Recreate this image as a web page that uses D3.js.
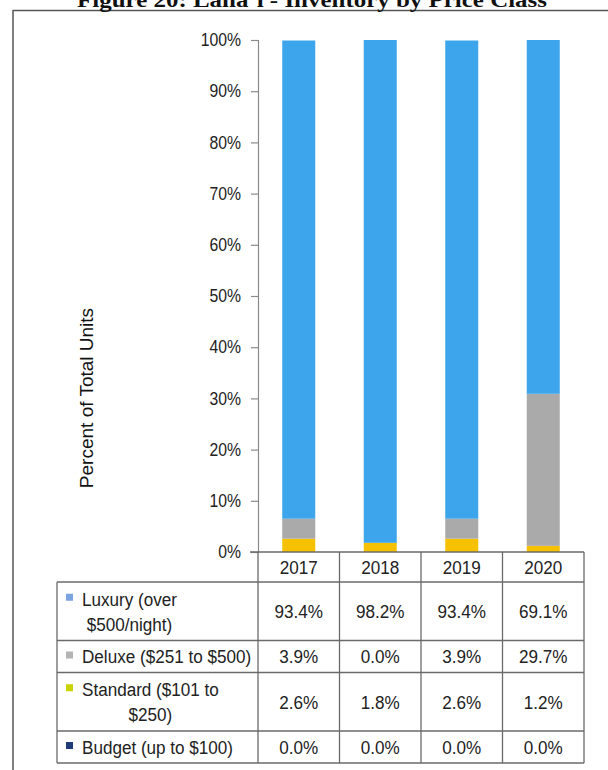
<!DOCTYPE html>
<html>
<head>
<meta charset="utf-8">
<script src="https://cdn.jsdelivr.net/npm/d3@7"></script>
<style>
  body { margin: 0; background: #fff; }
  svg { display: block; }
</style>
</head>
<body>
<svg id="chart" width="608" height="770"></svg>
<script>
// ---- data ----
const years = ["2017", "2018", "2019", "2020"];
const seriesKeys = ["luxury", "deluxe", "standard", "budget"];
const seriesLabelLines = [
  ["Luxury (over", "$500/night)"],
  ["Deluxe ($251 to $500)"],
  ["Standard ($101 to", "$250)"],
  ["Budget (up to $100)"]
];
const luxury = [93.4, 98.2, 93.4, 69.1];
const deluxe = [3.9, 0.0, 3.9, 29.7];
const standard = [2.6, 1.8, 2.6, 1.2];
const budget = [0.0, 0.0, 0.0, 0.0];
const yTicks = [0, 10, 20, 30, 40, 50, 60, 70, 80, 90, 100];
const titleText = "Figure 20: L\u0101na\u2018i - Inventory by Price Class";
const yTitle = "Percent of Total Units";

// ---- styles ----
const barColors = { luxury: "#3ca5ec", deluxe: "#aaaaaa", standard: "#f6c200", budget: "#1f3b7a" };
const keyColors = { luxury: "#7ca4e0", deluxe: "#b4b4b4", standard: "#c9d300", budget: "#203c78" };
const font = "'Liberation Sans', Arial, sans-serif";
const gridColor = "#6a6a6a";
const narrow = 0.9;   // horizontal squeeze for the condensed-looking labels

const values = { luxury, deluxe, standard, budget };
const rows = years.map((yr, i) => {
  const r = { year: yr };
  seriesKeys.forEach(k => r[k] = values[k][i]);
  return r;
});

const svg = d3.select("#chart");

// helper: a text placed at (x, y) and squeezed horizontally around that point
function narrowText(parent, xPos, yPos, str, size, anchor) {
  return parent.append("text")
    .attr("transform", `translate(${xPos},${yPos}) scale(${narrow},1)`)
    .attr("dy", "0.36em")
    .attr("text-anchor", anchor || "start")
    .attr("font-size", size)
    .text(str);
}

// outer frame
svg.append("line").attr("x1", 13).attr("x2", 608).attr("y1", 10.5).attr("y2", 10.5)
  .attr("stroke", "#555").attr("stroke-width", 1.5);
svg.append("line").attr("x1", 13).attr("x2", 13).attr("y1", 10).attr("y2", 770)
  .attr("stroke", "#555").attr("stroke-width", 1.5);

// title (sits partly above the top edge)
svg.append("text")
  .attr("x", 312).attr("y", 7)
  .attr("text-anchor", "middle")
  .attr("font-family", "'Liberation Serif', 'DejaVu Serif', serif")
  .attr("font-weight", "bold")
  .attr("font-size", 21)
  .attr("textLength", 470)
  .attr("lengthAdjust", "spacingAndGlyphs")
  .attr("fill", "#111")
  .text(titleText);

// ---- scales ----
const plotLeft = 258, plotRight = 584, plotTop = 40, plotBottom = 552;
const x = d3.scaleBand().domain(years).range([plotLeft, plotRight])
  .paddingInner(0.595).paddingOuter(0.2975);
const y = d3.scaleLinear().domain([0, 100]).range([plotBottom, plotTop]);

// ---- stacked bars (bottom: budget, top: luxury) ----
const stack = d3.stack().keys(["budget", "standard", "deluxe", "luxury"]);
const layers = stack(rows);

svg.append("g").selectAll("g")
  .data(layers)
  .join("g")
  .attr("fill", d => barColors[d.key])
  .selectAll("rect")
  .data(d => d)
  .join("rect")
  .attr("x", d => x(d.data.year))
  .attr("width", x.bandwidth())
  .attr("y", d => y(d[1]))
  .attr("height", d => Math.max(0, y(d[0]) - y(d[1])));

// ---- y axis ----
const yAxis = d3.axisLeft(y)
  .tickValues(yTicks)
  .tickFormat(d => d + "%")
  .tickSizeInner(7)
  .tickSizeOuter(7)
  .tickPadding(10);

const gy = svg.append("g").attr("transform", `translate(${plotLeft},0)`).call(yAxis);
gy.select(".domain").attr("stroke", "#8a8a8a").attr("stroke-width", 1.2);
gy.selectAll(".tick line").attr("stroke", "#8a8a8a").attr("stroke-width", 1.2);
gy.selectAll(".tick text")
  .attr("transform", `translate(-17,0) scale(${narrow},1)`)
  .attr("x", 0)
  .attr("font-family", font).attr("font-size", 17.5).attr("fill", "#222");

// y axis title
svg.append("text")
  .attr("transform", `translate(93,398) rotate(-90)`)
  .attr("text-anchor", "middle")
  .attr("font-family", font)
  .attr("font-size", 19)
  .attr("fill", "#111")
  .text(yTitle);

// ---- data table ----
const tableLeft = 57;
const headerTop = plotBottom, headerH = 30;
const lineStep = 25;
const rowHeights = seriesLabelLines.map(l => 32 + (l.length - 1) * 26.5);
const rowTops = [];
let acc = headerTop + headerH;
rowHeights.forEach(h => { rowTops.push(acc); acc += h; });
const tableBottom = acc;

const tg = svg.append("g").attr("font-family", font).attr("fill", "#222");
const colEdges = [plotLeft].concat(years.map(yr => x(yr) + x.bandwidth() / 2 + x.step() / 2));

// header cell top line (continues the 0% baseline)
tg.append("line").attr("x1", 250).attr("x2", plotRight).attr("y1", headerTop).attr("y2", headerTop)
  .attr("stroke", gridColor).attr("stroke-width", 1.3);
// horizontal row lines
[headerTop + headerH].concat(rowTops.slice(1), [tableBottom]).forEach(yy => {
  tg.append("line").attr("x1", tableLeft).attr("x2", plotRight).attr("y1", yy).attr("y2", yy)
    .attr("stroke", gridColor).attr("stroke-width", 1.3);
});
// vertical lines
colEdges.forEach(xx => {
  tg.append("line").attr("x1", xx).attr("x2", xx).attr("y1", headerTop).attr("y2", tableBottom)
    .attr("stroke", gridColor).attr("stroke-width", 1.3);
});
tg.append("line").attr("x1", tableLeft).attr("x2", tableLeft)
  .attr("y1", headerTop + headerH).attr("y2", tableBottom)
  .attr("stroke", gridColor).attr("stroke-width", 1.3);

// year header
years.forEach(yr => {
  narrowText(tg, x(yr) + x.bandwidth() / 2, headerTop + headerH / 2, yr, 19, "middle");
});

// series rows
seriesKeys.forEach((k, i) => {
  const top = rowTops[i], h = rowHeights[i];
  const lines = seriesLabelLines[i];
  const cy = top + h / 2;
  const firstY = cy - (lines.length - 1) * lineStep / 2;

  // legend key
  tg.append("rect")
    .attr("x", 66).attr("y", firstY - 5)
    .attr("width", 7).attr("height", 7)
    .attr("fill", keyColors[k]);

  const first = narrowText(tg, 82, firstY, lines[0], 19, "start");
  const w = first.node().getComputedTextLength() * narrow;
  lines.slice(1).forEach((ln, j) => {
    narrowText(tg, 82 + w / 2, firstY + (j + 1) * lineStep, ln, 19, "middle");
  });

  // values
  years.forEach((yr, c) => {
    narrowText(tg, x(yr) + x.bandwidth() / 2, cy, values[k][c].toFixed(1) + "%", 19, "middle");
  });
});
</script>
</body>
</html>
